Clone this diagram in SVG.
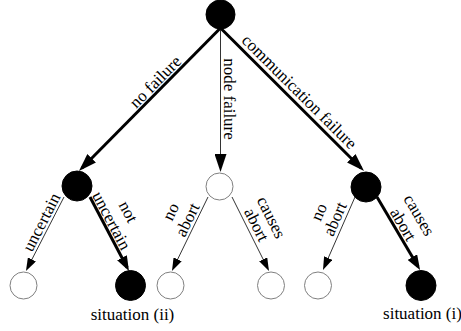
<svg xmlns="http://www.w3.org/2000/svg" width="461" height="331" viewBox="0 0 461 331" font-family="'Liberation Serif', 'Times New Roman', 'DejaVu Serif', serif">
  <style>
    text { font-family: "Liberation Serif", "Times New Roman", "DejaVu Serif", serif; font-size: 17px; fill: #000; text-anchor: middle; }
    .thick { stroke: #000; stroke-width: 3; fill: none; }
    .thin { stroke: #333; stroke-width: 1; fill: none; }
    .black { fill: #000; stroke: #000; stroke-width: 1; }
    .white { fill: #fff; stroke: #808080; stroke-width: 1; }
  </style>
  <defs>
    <!-- arrowheads: the tip sits 4 units past the end of the line -->
    <marker id="ah-big" markerUnits="userSpaceOnUse" markerWidth="18" markerHeight="12" refX="14" refY="6" orient="auto">
      <path d="M0,0 L18,6 L0,12 z" fill="#000"/>
    </marker>
    <marker id="ah-md" markerUnits="userSpaceOnUse" markerWidth="15" markerHeight="11" refX="11" refY="5.5" orient="auto">
      <path d="M0,0 L15,5.5 L0,11 z" fill="#000"/>
    </marker>
    <marker id="ah-sm" markerUnits="userSpaceOnUse" markerWidth="13" markerHeight="9" refX="9" refY="4.5" orient="auto">
      <path d="M0,0 L13,4.5 L0,9 z" fill="#000"/>
    </marker>
  </defs>

  <g id="connectors">
    <!-- root to first level -->
    <line class="thick" x1="220.5" y1="28" x2="81.8" y2="168.2" marker-end="url(#ah-big)"/>
    <line class="thin" x1="220.5" y1="28" x2="220.5" y2="168" marker-end="url(#ah-big)"/>
    <line class="thick" x1="220.5" y1="28" x2="361.2" y2="168.2" marker-end="url(#ah-big)"/>
    <!-- first level to leaves -->
    <line class="thin" x1="64" y1="197" x2="27.8" y2="267.4" marker-end="url(#ah-sm)"/>
    <line class="thick" x1="90" y1="197" x2="127.1" y2="267.5" marker-end="url(#ah-md)"/>
    <line class="thin" x1="208" y1="197" x2="173.7" y2="267.4" marker-end="url(#ah-sm)"/>
    <line class="thin" x1="232" y1="197" x2="267.2" y2="267.4" marker-end="url(#ah-sm)"/>
    <line class="thin" x1="355" y1="197" x2="324.6" y2="266.3" marker-end="url(#ah-sm)"/>
    <line class="thick" x1="377" y1="197" x2="418" y2="266.6" marker-end="url(#ah-md)"/>

    <!-- edge labels -->
    <text transform="translate(161.4,87.8) rotate(-45.3)" y="-3">no failure</text>
    <text transform="translate(220.5,99) rotate(90)" y="-3.5">node failure</text>
    <text transform="translate(291.9,99.2) rotate(44.9)" y="-5">communication failure</text>

    <text transform="translate(49.1,226.1) rotate(-62.8)" y="-3">uncertain</text>
    <g transform="translate(104.4,224.4) rotate(62.2)">
      <text y="-21.5">not</text>
      <text y="-2.5">uncertain</text>
    </g>
    <g transform="translate(195.1,223.5) rotate(-64.1)">
      <text y="-21.5">no</text>
      <text y="-3">abort</text>
    </g>
    <g transform="translate(248,229) rotate(63.5)">
      <text y="-20.5">causes</text>
      <text y="-4">abort</text>
    </g>
    <g transform="translate(343.7,222.8) rotate(-66.4)">
      <text y="-21.5">no</text>
      <text y="-4">abort</text>
    </g>
    <g transform="translate(395.8,228.9) rotate(59.5)">
      <text y="-21.5">causes</text>
      <text y="-3">abort</text>
    </g>
  </g>

  <g id="root"><circle class="black" cx="220.5" cy="14.5" r="14.5"/></g>

  <g id="no-failure"><circle class="black" cx="77" cy="186" r="15"/></g>
  <g id="node-failure"><circle class="white" cx="219.5" cy="186.5" r="13.5"/></g>
  <g id="communication-failure"><circle class="black" cx="366" cy="187" r="15"/></g>

  <g id="uncertain"><circle class="white" cx="23.5" cy="285.5" r="13.5"/></g>
  <g id="situation-ii">
    <circle class="black" cx="130.5" cy="285.5" r="15"/>
    <text x="132.5" y="320">situation (ii)</text>
  </g>
  <g id="node-no-abort"><circle class="white" cx="170.5" cy="285.5" r="13.5"/></g>
  <g id="node-causes-abort"><circle class="white" cx="271" cy="285.5" r="13.5"/></g>
  <g id="comm-no-abort"><circle class="white" cx="318" cy="285.5" r="13.5"/></g>
  <g id="situation-i">
    <circle class="black" cx="421" cy="285.5" r="15"/>
    <text x="422.5" y="319">situation (i)</text>
  </g>
</svg>
